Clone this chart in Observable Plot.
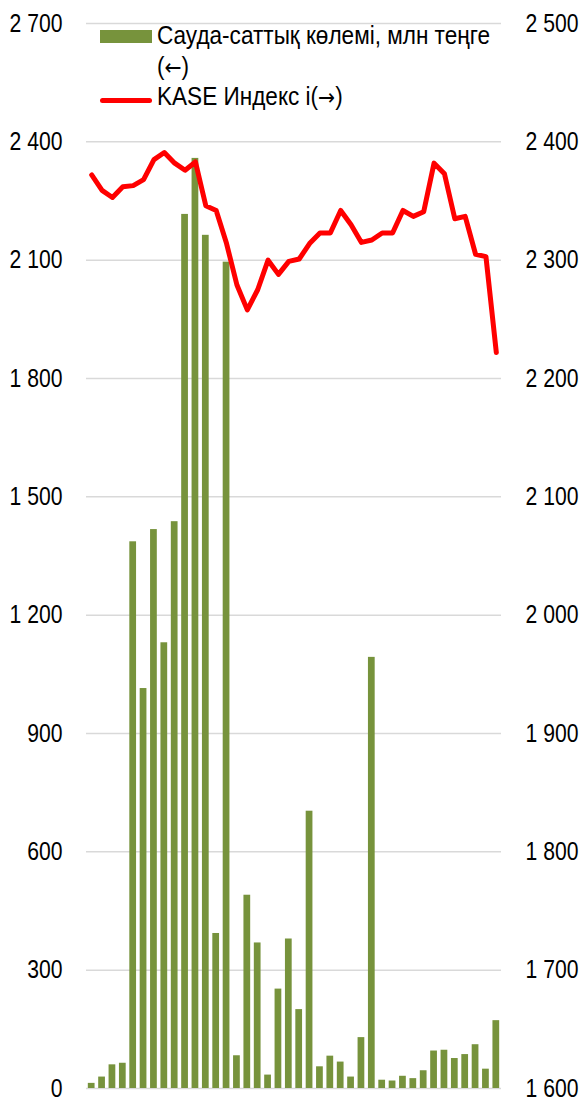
<!DOCTYPE html>
<html><head><meta charset="utf-8">
<script src="https://cdn.jsdelivr.net/npm/d3@7"></script>
<script src="https://cdn.jsdelivr.net/npm/@observablehq/plot@0.6"></script>
<style>
body{margin:0;background:#fff}
#wrap{position:relative;width:582px;height:1099px;overflow:hidden;font-family:"Liberation Sans",Arial,sans-serif;color:#000}
.leg{position:absolute;font-size:25.5px;line-height:30.5px;white-space:nowrap;transform:scaleX(0.885);transform-origin:0 0}
.arr{font-family:"DejaVu Sans",sans-serif;font-size:23px}
.sw{position:absolute}
</style></head><body><div id="wrap"></div>
<script>
const periods = [1,2,3,4,5,6,7,8,9,10,11,12,13,14,15,16,17,18,19,20,21,22,23,24,25,26,27,28,29,30,31,32,33,34,35,36,37,38,39,40];
const volume = [13,29,60,64,1386,1014,1417,1130,1437,2216,2358,2163,393,2095,83,490,369,34,252,379,200,703,55,82,67,29,129,1093,21,19,31,25,45,95,97,76,86,111,49,172];
const kase = [2372,2359,2353,2362,2363,2368,2385,2391,2382,2376,2383,2346,2342,2314,2279,2258,2275,2300,2288,2299,2301,2314,2323,2323,2342,2330,2315,2317,2323,2323,2342,2337,2341,2382,2373,2335,2337,2305,2303,2222];
const leftTicks = [0,300,600,900,1200,1500,1800,2100,2400,2700];
const rightTicks = [1600,1700,1800,1900,2000,2100,2200,2300,2400,2500];
const legendVolume = "Сауда-саттық көлемі, млн теңге";
const legendKaseName = "KASE Индекс і";
const arrowLeft = "(←)";
const arrowRight = "(→)";

const rightMin = 1600, ratio = 3; // right axis 1600–2500 mapped onto 0–2700
const toLeft = v => (v - rightMin) * ratio;
const fromLeft = v => v / ratio + rightMin;
const fmt = d => d3.format(",")(d).replace(/,/g, "\u00a0");

const data = periods.map((p, i) => ({p, vol: volume[i], kase: kase[i]}));

const chart = Plot.plot({
  width: 582, height: 1099,
  marginLeft: 86, marginRight: 81, marginTop: 23, marginBottom: 11,
  style: {fontFamily: '"Liberation Sans",Arial,sans-serif', fontSize: "25.5px", color: "#000", background: "#fff", overflow: "visible"},
  x: {type: "band", domain: periods, paddingInner: 0.35, paddingOuter: 0.175, round: false, axis: null},
  y: {domain: [0, 2700], axis: null},
  marks: [
    Plot.gridY(leftTicks, {stroke: "#d9d9d9", strokeOpacity: 1, strokeWidth: 1.5}),
    Plot.barY(data, {x: "p", y: "vol", fill: "#77933C"}),
    Plot.line(data, {x: "p", y: d => toLeft(d.kase), stroke: "#ff0000", strokeWidth: 5, strokeLinejoin: "round", strokeLinecap: "round"}),
    Plot.axisY(leftTicks, {anchor: "left", label: null, tickSize: 0, tickPadding: 24, tickFormat: fmt, fill: "#000"}),
    Plot.axisY(rightTicks.map(toLeft), {anchor: "right", label: null, tickSize: 0, tickPadding: 24, tickFormat: d => fmt(Math.round(fromLeft(d))), fill: "#000"})
  ]
});
const wrap = document.getElementById("wrap");
wrap.appendChild(chart);

// condense tick labels horizontally (narrow typeface look)
chart.querySelectorAll('g[aria-label="y-axis tick label"] text').forEach(t => {
  const tr = t.getAttribute("transform");
  if (tr) {
    t.setAttribute("transform", tr + " scale(0.83,1)");
  } else {
    const x = +t.getAttribute("x") || 0, y = +t.getAttribute("y") || 0;
    t.setAttribute("x", 0); t.setAttribute("y", 0);
    t.setAttribute("transform", `translate(${x},${y}) scale(0.83,1)`);
  }
});

function add(html, cls, css) {
  const el = document.createElement("div");
  el.className = cls;
  el.innerHTML = html;
  Object.assign(el.style, css);
  wrap.appendChild(el);
}
const arrSpan = s => s.replace(/[←→]/, m => `<span class="arr">${m}</span>`);
add("", "sw", {left: "100px", top: "30px", width: "52px", height: "13px", background: "#77933C"});
add(legendVolume + "<br>" + arrSpan(arrowLeft), "leg", {left: "157px", top: "20px"});
add("", "sw", {left: "100px", top: "97.5px", width: "52px", height: "5px", background: "#ff0000", borderRadius: "3px"});
add(legendKaseName + arrSpan(arrowRight), "leg", {left: "157px", top: "81px"});
</script></body></html>
